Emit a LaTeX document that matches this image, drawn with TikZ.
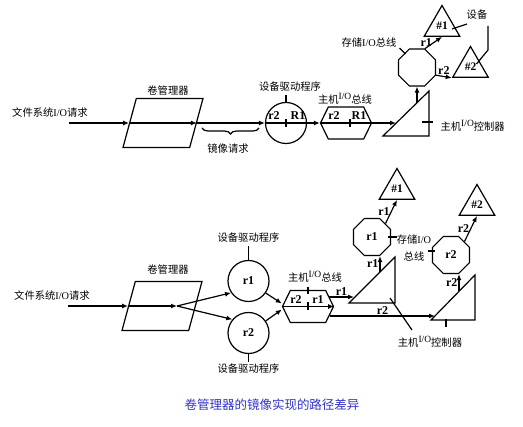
\documentclass[tikz,border=0pt]{standalone}
\usepackage{fontspec}
\setmainfont{Liberation Serif}
\newfontfamily\cjk{Noto Sans CJK SC}
\usepackage{tikz}
\usetikzlibrary{shapes,arrows,arrows.meta}
\usetikzlibrary{positioning}
\usetikzlibrary{shapes.geometric,shapes.symbols}
\usetikzlibrary{decorations.pathreplacing}
\definecolor{capblue}{RGB}{50,50,200}
\newcommand{\upio}{\raisebox{0.4em}{\rmfamily\fontsize{9.5}{9.5}\selectfont I/O}}

\begin{document}
\begin{tikzpicture}[x=1pt,y=-1pt,>={Latex[length=6pt,width=5pt]},line width=1.2pt,
  txt/.style={font=\cjk\fontsize{10.3}{17}\selectfont,inner sep=0pt,align=center},
  lbl/.style={font=\bfseries\fontsize{12}{12}\selectfont,inner sep=1pt},
  vol/.style={draw,trapezium,trapezium left angle=76,trapezium right angle=104,trapezium stretches=true,minimum width=80,minimum height=49,inner sep=2pt},
  drv/.style={draw,circle,minimum size=41,inner sep=0pt,font=\bfseries\fontsize{12}{12}\selectfont},
  bus/.style={draw,signal,signal to=west and east,signal pointer angle=128,minimum width=51,minimum height=32,inner sep=2pt},
  sto/.style={draw,regular polygon,regular polygon sides=8,minimum size=40,inner sep=0pt,font=\bfseries\fontsize{12}{12}\selectfont},
  dev/.style={draw,regular polygon,regular polygon sides=3,minimum size=41,inner sep=0pt,font=\bfseries\fontsize{11.5}{12}\selectfont}]
\path[use as bounding box] (0,0) rectangle (523,427);
% upper path
\path node[txt] (rq1) at (50,113) {文件系统{\rmfamily I/O}请求};
\coordinate (src1) at (69,123);
\path node[vol] (vm1) at (163,123) {};
\path node[txt] (vml1) at (168,91) {卷管理器};
\path[->] (src1) edge (vm1);
\path[->] (vm1.west) edge (vm1.east);
\path[draw,decorate,decoration={brace,mirror,amplitude=6pt}] (202,128) -- (259,128);
\path node[txt] (mir) at (228,149) {镜像请求};
\path node[drv] (dd1) at (286,123) {};
\path node[txt] (ddl1) at (290,87) {设备驱动程序};
\path[->] (vm1.east) edge (dd1);
\path[draw] (dd1.west) -- (dd1.east);
\path[draw] (dd1.north) -- ++(0,-7);
\path[draw] ([yshift=4pt]dd1.center) -- ([yshift=-4pt]dd1.center);
\path node[lbl,anchor=south] (dd1a) at (274,121.5) {r2};
\path node[lbl,anchor=south] (dd1b) at (298,121.5) {R1};
\path node[bus] (hb1) at (346,123) {};
\path node[txt] (hbl1) at (345,99) {主机\upio 总线};
\path[->] (dd1) edge (hb1);
\path[draw] (hb1.west) -- (hb1.east);
\path[draw] ([shift={(4,-4)}]hb1.center) -- ([shift={(4,4)}]hb1.center);
\path node[lbl,anchor=south] (hb1a) at (334,121.5) {r2};
\path node[lbl,anchor=south] (hb1b) at (359,121.5) {R1};
\path[draw] (383,136) coordinate (hc1a) -- (429,91) coordinate (hc1b) -- (429,136) coordinate (hc1c) -- cycle;
\coordinate (hc1i) at (396,123);
\coordinate (hc1o) at (417,103);
\path[->] (hb1) edge (hc1i);
\path[draw] ([shift={(-7,-14)}]hc1c) -- ++(11,0);
\path node[txt,anchor=west] (hcl1) at (440,126) {主机\upio 控制器};
\path node[sto] (st1) at (417,67.5) {};
\path node[txt] (stl1) at (369,43) {存储{\rmfamily I/O}总线};
\path[draw] ([shift={(-4,-6)}]st1.135) -- ([shift={(2,0)}]st1.135);
\path[->] (hc1o) edge (st1);
\path node[dev] (dv1) at (442,26) {\#1};
\path node[dev] (dv2) at (470.5,67) {\#2};
\path[->] (st1.67.5) edge node[lbl,midway,left] {r1} (dv1.south);
\path[->] (st1.-22.5) edge node[lbl,midway,above] {r2} (dv2.210);
\path node[txt] (dvl) at (477,15) {设备};
\path[draw] ([shift={(10,3)}]dv1.center) -- ([shift={(25,-2)}]dv1.center);
\path[draw] ([shift={(6,-3)}]dv2.center) -- ([shift={(17.5,-17)}]dv2.center) -- ([shift={(17.5,-41)}]dv2.center);
% lower path
\path node[txt] (rq2) at (52,296) {文件系统{\rmfamily I/O}请求};
\coordinate (src2) at (68,306);
\path node[vol] (vm2) at (162,306) {};
\path node[txt] (vml2) at (168,270) {卷管理器};
\path[->] (src2) edge (vm2);
\path[->] (vm2.west) edge ([xshift=15pt]vm2.center);
\path node[drv] (dr1) at (248.5,281) {r1};
\path node[drv] (dr2) at (248.5,333) {r2};
\path node[txt] (drl1) at (248.5,238) {设备驱动程序};
\path node[txt] (drl2) at (248.5,369) {设备驱动程序};
\path[draw] (dr1.north) -- ++(0,-14);
\path[draw] (dr2.south) -- ++(0,8);
\path[->] ([xshift=15pt]vm2.center) edge (dr1.214);
\path[->] ([xshift=15pt]vm2.center) edge (dr2.140);
\path node[bus] (hb2) at (308,306.5) {};
\path node[txt] (hbl2) at (315,277) {主机\upio 总线};
\path[->] (dr1.-35) edge ([yshift=3pt]hb2.west);
\path[->] (dr2.35) edge ([yshift=-3pt]hb2.west);
\path[->] (hb2.west) edge (hb2.east);
\path[draw] ([yshift=3pt]hb2.north) -- ([yshift=-4pt]hb2.north);
\path[draw] ([yshift=4pt]hb2.center) -- ([yshift=-4pt]hb2.center);
\path node[lbl,anchor=south] (hb2a) at (296,305) {r2};
\path node[lbl,anchor=south] (hb2b) at (318,305) {r1};
\coordinate (hb2o1) at (329,297);
\coordinate (hb2o2) at (330,316);
\path[draw] (349,303) coordinate (hc2a) -- (395,257) coordinate (hc2b) -- (395,303) coordinate (hc2c) -- cycle;
\coordinate (hc2i) at (354,297);
\coordinate (hc2o) at (380,272);
\path[draw] (431,320) coordinate (hc3a) -- (475,275) coordinate (hc3b) -- (475,320) coordinate (hc3c) -- cycle;
\coordinate (hc3i) at (435,316);
\coordinate (hc3o) at (459,291);
\path[->] (hb2o1) edge node[lbl,midway,above] {r1} (hc2i);
\path[->] (hb2o2) edge node[lbl,midway,above] {r2} (hc3i);
\path[draw] ([shift={(-5,-5)}]hc2c) -- ++(22,32);
\path node[txt] (hcl2) at (430,342) {主机\upio 控制器};
\path[draw] ([shift={(15,-1)}]hc3a) -- ++(0,8);
\path node[sto] (st2) at (372,237) {r1};
\path node[sto] (st3) at (451,255) {r2};
\path[->] (hc2o) edge node[lbl,midway,left] {r1} (hc2o |- st2.south);
\path[->] (hc3o) edge node[lbl,midway,left] {r2} (hc3o |- st3.south);
\path node[txt] (stl2) at (414,248.5) {存储{\rmfamily I/O}\\总线};
\path[draw] ([xshift=-3pt]st2.east) -- ++(9,0);
\path[draw] ([shift={(3,-4)}]st3.west) -- ++(-7,0);
\path node[dev] (dv3) at (397,189) {\#1};
\path node[dev] (dv4) at (477,205) {\#2};
\path[->] (st2.45) edge node[lbl,midway,left] {r1} (dv3.south);
\path[->] (st3.45) edge node[lbl,midway,left] {r2} (dv4.south);
\path node[txt,font=\cjk\fontsize{12.5}{14}\selectfont,text=capblue] (cap) at (272,405) {卷管理器的镜像实现的路径差异};
\end{tikzpicture}
\end{document}
